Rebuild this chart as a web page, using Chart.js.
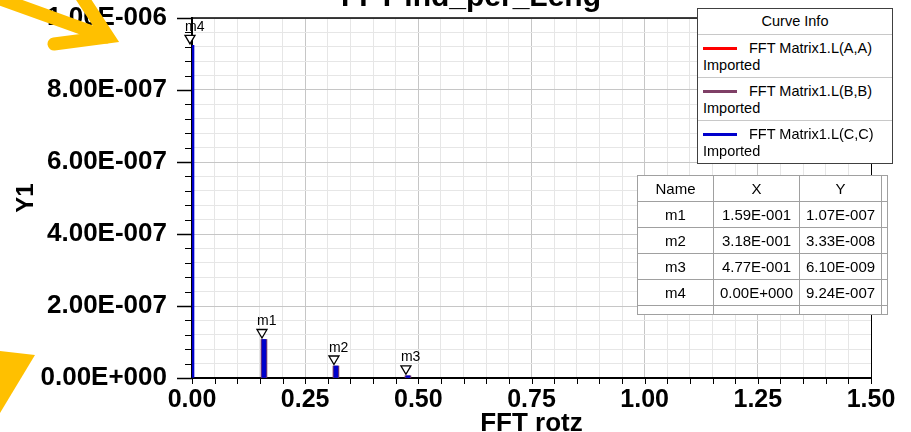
<!DOCTYPE html>
<html>
<head>
<meta charset="utf-8">
<title>FFT ind_per_Leng</title>
<script src="https://cdn.jsdelivr.net/npm/chart.js@4.4.0/dist/chart.umd.min.js"></script>
<style>
  html, body { margin: 0; padding: 0; background: #fff; }
  #wrap { position: relative; width: 911px; height: 432px; overflow: hidden;
          font-family: 'Liberation Sans', Arial, sans-serif; color: #000; }
  #fft-chart { position: absolute; left: 0; top: 0; }
  #curve-info { position: absolute; left: 697px; top: 8px; width: 196px; background: #fff;
                border: 1px solid #404040; box-sizing: border-box; font-size: 14.5px; }
  #curve-info .ci-head { height: 25px; line-height: 25px; text-align: center; border-bottom: 1px solid #c8c8c8; }
  #curve-info .ci-row { position: relative; height: 42px; border-bottom: 1px solid #c8c8c8; }
  #curve-info .ci-row:last-child { border-bottom: none; }
  #curve-info .ci-line { position: absolute; left: 5px; top: 12px; width: 34px; height: 3px; }
  #curve-info .ci-name { position: absolute; left: 51px; top: 5px; line-height: 16px; white-space: nowrap; }
  #curve-info .ci-sub { position: absolute; left: 5px; top: 22px; line-height: 16px; }
  #marker-table { position: absolute; left: 637px; top: 175px; border-collapse: collapse; background: #fff;
                  border: 1.5px solid #222; font-size: 15px; }
  #marker-table td { border: 1px solid #a0a0a0; text-align: center; padding: 0; height: 25px; }
  #marker-table tr.last td { height: 8px; }
</style>
</head>
<body>
<div id="wrap">
  <canvas id="fft-chart" width="911" height="432"></canvas>
  <div id="curve-info"></div>
  <table id="marker-table"></table>
</div>
<script>
var chartTitle = 'FFT ind_per_Leng';
var curveNames = ['FFT Matrix1.L(A,A)', 'FFT Matrix1.L(B,B)', 'FFT Matrix1.L(C,C)'];
var curveSource = 'Imported';
var curveColors = ['#ff0000', '#7f3f66', '#0000cc'];

// stems (FFT magnitude)
var freqB = [0.159, 0.318, 0.477];
var magB = [1.07e-7, 3.33e-8, 6.10e-9];
var freqC = [0.0, 0.159, 0.318, 0.477];
var magC = [9.24e-7, 1.07e-7, 3.33e-8, 6.10e-9];

// markers
var markerNames = ['m1', 'm2', 'm3', 'm4'];
var markerX = [0.159, 0.318, 0.477, 0.0];
var markerY = [1.07e-7, 3.33e-8, 6.10e-9, 9.24e-7];

var xTickLabels = ['0.00', '0.25', '0.50', '0.75', '1.00', '1.25', '1.50'];
var yTickLabels = ['0.00E+000', '2.00E-007', '4.00E-007', '6.00E-007', '8.00E-007', '1.00E-006'];
var xMajorStep = 0.25, yMajorStep = 2e-7, minorPerMajor = 5;

var fontFamily = "'Liberation Sans', Arial, sans-serif";

function sci(v) {
  if (v === 0) return '0.00E+000';
  var e = Math.floor(Math.log10(Math.abs(v)));
  var m = v / Math.pow(10, e);
  if (Math.abs(Number(m.toFixed(2))) >= 10) { m /= 10; e += 1; }
  return m.toFixed(2) + 'E' + (e < 0 ? '-' : '+') + String(Math.abs(e)).padStart(3, '0');
}

function toPoints(xs, ys) {
  return xs.map(function(x, i) { return {x: x, y: ys[i]}; });
}

function minorTicks(count, step) {
  var ticks = [];
  for (var i = 0; i <= (count - 1) * minorPerMajor; i++) {
    ticks.push({value: i * step / minorPerMajor});
  }
  return ticks;
}

function gridColor(c) {
  return c.index % minorPerMajor === 0 ? '#c6c6c6' : '#e6e6e6';
}

// legend box
var legendHtml = ['<div class="ci-head">Curve Info</div>'];
for (var i = 0; i < curveNames.length; i++) {
  legendHtml.push('<div class="ci-row"><span class="ci-line" style="background:' + curveColors[i] + '"></span>' +
    '<span class="ci-name">' + curveNames[i] + '</span><div class="ci-sub">' + curveSource + '</div></div>');
}
document.getElementById('curve-info').innerHTML = legendHtml.join('');

// marker table
var rows = ['<tr><td style="width:75px;height:24px">Name</td><td style="width:85px">X</td><td style="width:81px">Y</td><td style="width:5px"></td></tr>'];
for (var j = 0; j < markerNames.length; j++) {
  rows.push('<tr><td>' + markerNames[j] + '</td><td>' + sci(markerX[j]) + '</td><td>' + sci(markerY[j]) + '</td><td></td></tr>');
}
rows.push('<tr class="last"><td></td><td></td><td></td><td></td></tr>');
document.getElementById('marker-table').innerHTML = rows.join('');

var plotDecor = {
  id: 'plotDecor',
  afterDraw: function(chart) {
    var ctx = chart.ctx, area = chart.chartArea;
    var xs = chart.scales.x, ys = chart.scales.y;
    ctx.save();

    // frame top / right
    ctx.strokeStyle = '#000';
    ctx.lineWidth = 1.5;
    ctx.beginPath();
    ctx.moveTo(area.left, area.top);
    ctx.lineTo(area.right, area.top);
    ctx.stroke();
    ctx.lineWidth = 1;
    ctx.beginPath();
    ctx.moveTo(area.right + 0.5, area.top);
    ctx.lineTo(area.right + 0.5, area.bottom);
    ctx.stroke();

    // tick marks
    ys.ticks.forEach(function(t, i) {
      var yy = Math.round(ys.getPixelForValue(t.value)) + 0.5;
      var len = i % minorPerMajor === 0 ? 15 : 7;
      ctx.lineWidth = i % minorPerMajor === 0 ? 1.5 : 1;
      ctx.beginPath();
      ctx.moveTo(area.left - len, yy);
      ctx.lineTo(area.left, yy);
      ctx.stroke();
    });
    ctx.lineWidth = 1;
    xs.ticks.forEach(function(t) {
      var xx = Math.round(xs.getPixelForValue(t.value)) + 0.5;
      ctx.beginPath();
      ctx.moveTo(xx, area.bottom);
      ctx.lineTo(xx, area.bottom + 6);
      ctx.stroke();
    });

    // markers
    ctx.font = '14px ' + fontFamily;
    ctx.textAlign = 'left';
    ctx.textBaseline = 'alphabetic';
    for (var k = 0; k < markerNames.length; k++) {
      var cx = xs.getPixelForValue(markerX[k]) - 2;
      var tip = ys.getPixelForValue(markerY[k]) - 1.5;
      ctx.beginPath();
      ctx.moveTo(cx - 5, tip - 8.5);
      ctx.lineTo(cx + 5, tip - 8.5);
      ctx.lineTo(cx, tip);
      ctx.closePath();
      ctx.fillStyle = '#fff';
      ctx.fill();
      ctx.lineWidth = 1.3;
      ctx.strokeStyle = '#000';
      ctx.stroke();
      ctx.fillStyle = '#000';
      ctx.fillText(markerNames[k], cx - 5, tip - 13);
    }

    // title (cut at the top edge)
    ctx.font = 'bold 30px ' + fontFamily;
    ctx.textAlign = 'center';
    ctx.fillText(chartTitle, 471, 6);

    // yellow annotation arrows
    ctx.strokeStyle = '#ffc000';
    ctx.fillStyle = '#ffc000';
    ctx.lineWidth = 13;
    ctx.lineCap = 'round';
    ctx.lineJoin = 'miter';
    ctx.beginPath();
    ctx.moveTo(-30, -12);
    ctx.lineTo(106, 37);
    ctx.stroke();
    ctx.beginPath();
    ctx.moveTo(76, -12);
    ctx.lineTo(108, 37);
    ctx.lineTo(54, 44);
    ctx.stroke();
    ctx.beginPath();
    ctx.moveTo(0, 351);
    ctx.lineTo(35, 355);
    ctx.lineTo(0, 413);
    ctx.closePath();
    ctx.fill();

    ctx.restore();
  }
};

var fftCanvas = document.getElementById('fft-chart').getContext('2d');
var fftChart = new Chart(fftCanvas, {
  type: 'bar',
  data: {
    datasets: [{
      label: curveNames[1],
      data: toPoints(freqB, magB),
      backgroundColor: curveColors[1],
      barThickness: 6,
      grouped: false,
      order: 1
    }, {
      label: curveNames[2],
      data: toPoints(freqC, magC),
      backgroundColor: curveColors[2],
      barThickness: 4,
      grouped: false,
      order: 0
    }]
  },
  options: {
    responsive: false,
    animation: false,
    layout: { padding: { top: 18, right: 40, bottom: 0, left: 0 } },
    plugins: {
      legend: { display: false },
      tooltip: { enabled: false },
      title: { display: false }
    },
    scales: {
      x: {
        type: 'linear',
        min: 0,
        max: 1.5,
        offset: false,
        grid: { offset: false, color: gridColor, drawTicks: false },
        border: { color: '#000', width: 2 },
        ticks: {
          autoSkip: false,
          maxRotation: 0,
          padding: 7,
          color: '#000',
          font: { family: fontFamily, size: 25, weight: 'bold' },
          callback: function(value, index) {
            return index % minorPerMajor === 0 ? xTickLabels[index / minorPerMajor] : '';
          }
        },
        title: {
          display: true,
          text: 'FFT rotz',
          color: '#000',
          padding: { top: 0, bottom: 0 },
          font: { family: fontFamily, size: 26, weight: 'bold', lineHeight: 0.65 }
        },
        afterBuildTicks: function(scale) { scale.ticks = minorTicks(xTickLabels.length, xMajorStep); },
        afterFit: function(scale) {
          scale.height = 54;
          scale.paddingLeft = 0;
          scale.paddingRight = 0;
        }
      },
      y: {
        min: 0,
        max: 1e-6,
        grid: { color: gridColor, drawTicks: false },
        border: { color: '#000', width: 2 },
        ticks: {
          autoSkip: false,
          padding: 25,
          color: '#000',
          font: { family: fontFamily, size: 26, weight: 'bold' },
          callback: function(value, index) {
            return index % minorPerMajor === 0 ? yTickLabels[index / minorPerMajor] : '';
          }
        },
        title: {
          display: true,
          text: 'Y1',
          color: '#000',
          padding: { top: 14, bottom: 0 },
          font: { family: fontFamily, size: 24, weight: 'bold', lineHeight: 1 }
        },
        afterBuildTicks: function(scale) { scale.ticks = minorTicks(yTickLabels.length, yMajorStep); },
        afterFit: function(scale) {
          scale.width = 192;
          scale.paddingTop = 0;
          scale.paddingBottom = 0;
        }
      }
    }
  },
  plugins: [plotDecor]
});
</script>
</body>
</html>
